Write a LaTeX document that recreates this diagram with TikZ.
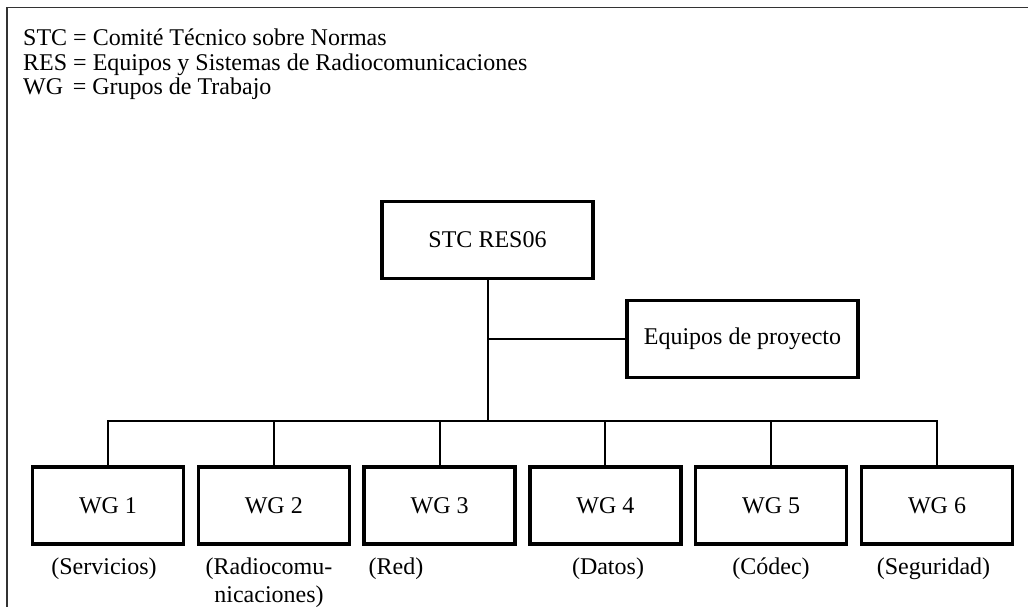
\documentclass[tikz,border=0pt]{standalone}
\usepackage{fontspec}
\setmainfont{Liberation Serif}
\begin{document}
\begin{tikzpicture}[x=1pt,y=-1pt,
  txt/.style={font=\fontsize{24}{24}\selectfont, inner sep=0pt},
  box/.style={draw, line width=3.4pt, minimum width=#1, minimum height=77pt, inner sep=0pt, font=\fontsize{24}{24}\selectfont},
  conn/.style={line width=2pt},
  frame/.style={line width=1.3pt, black!80},
  lbl/.style={txt, anchor=base, align=center}]
\useasboundingbox (0,0) rectangle (1028,607);
% frame
\coordinate (fb) at (7,608);
\coordinate (fc) at (7,7.5);
\coordinate (fr) at (1029,7.5);
\draw[frame] (fb) -- (fc) -- (fr);
% header
\node[txt, anchor=base west] (h1) at (23,46) {STC = Comité Técnico sobre Normas};
\node[txt, anchor=base west] (h2) at (23,70.5) {RES = Equipos y Sistemas de Radiocomunicaciones};
\node[txt, anchor=base west] (h3) at (23,95) {WG\hspace{0.4em}= Grupos de Trabajo};
% top boxes
\node[box=211pt] (stc) at (487.5,240) {STC RES06};
\node[box=231pt] (eq) at (742.5,339) {Equipos de proyecto};
% WG boxes
\node[box=151pt] (wg1) at (108,505.5) {WG 1};
\node[box=151pt] (wg2) at (273.8,505.5) {WG 2};
\node[box=151pt] (wg3) at (439.6,505.5) {WG 3};
\node[box=151pt] (wg4) at (605.4,505.5) {WG 4};
\node[box=151pt] (wg5) at (771.2,505.5) {WG 5};
\node[box=151pt] (wg6) at (937,505.5) {WG 6};
% labels
\node[lbl] (l1) at (104,574) {(Servicios)};
\node[txt, anchor=base] (l2a) at (269,574) {(Radiocomu-};
\node[txt, anchor=base] (l2b) at (269,602) {nicaciones)};
\node[lbl] (l3) at (396,574) {(Red)};
\node[lbl] (l4) at (608,574) {(Datos)};
\node[lbl] (l5) at (771,574) {(Códec)};
\node[lbl] (l6) at (933.5,574) {(Seguridad)};
% connectors
\coordinate (bus) at (487.5,421);
\draw[conn] (stc.south) -- (bus);
\draw[conn] (stc.south |- eq.west) -- (eq.west);
\draw[conn] (wg1.north) |- (bus) -| (wg6.north);
\foreach \i in {2,3,4,5} \draw[conn] (wg\i.north) -- (wg\i.north |- bus);
\end{tikzpicture}
\end{document}
